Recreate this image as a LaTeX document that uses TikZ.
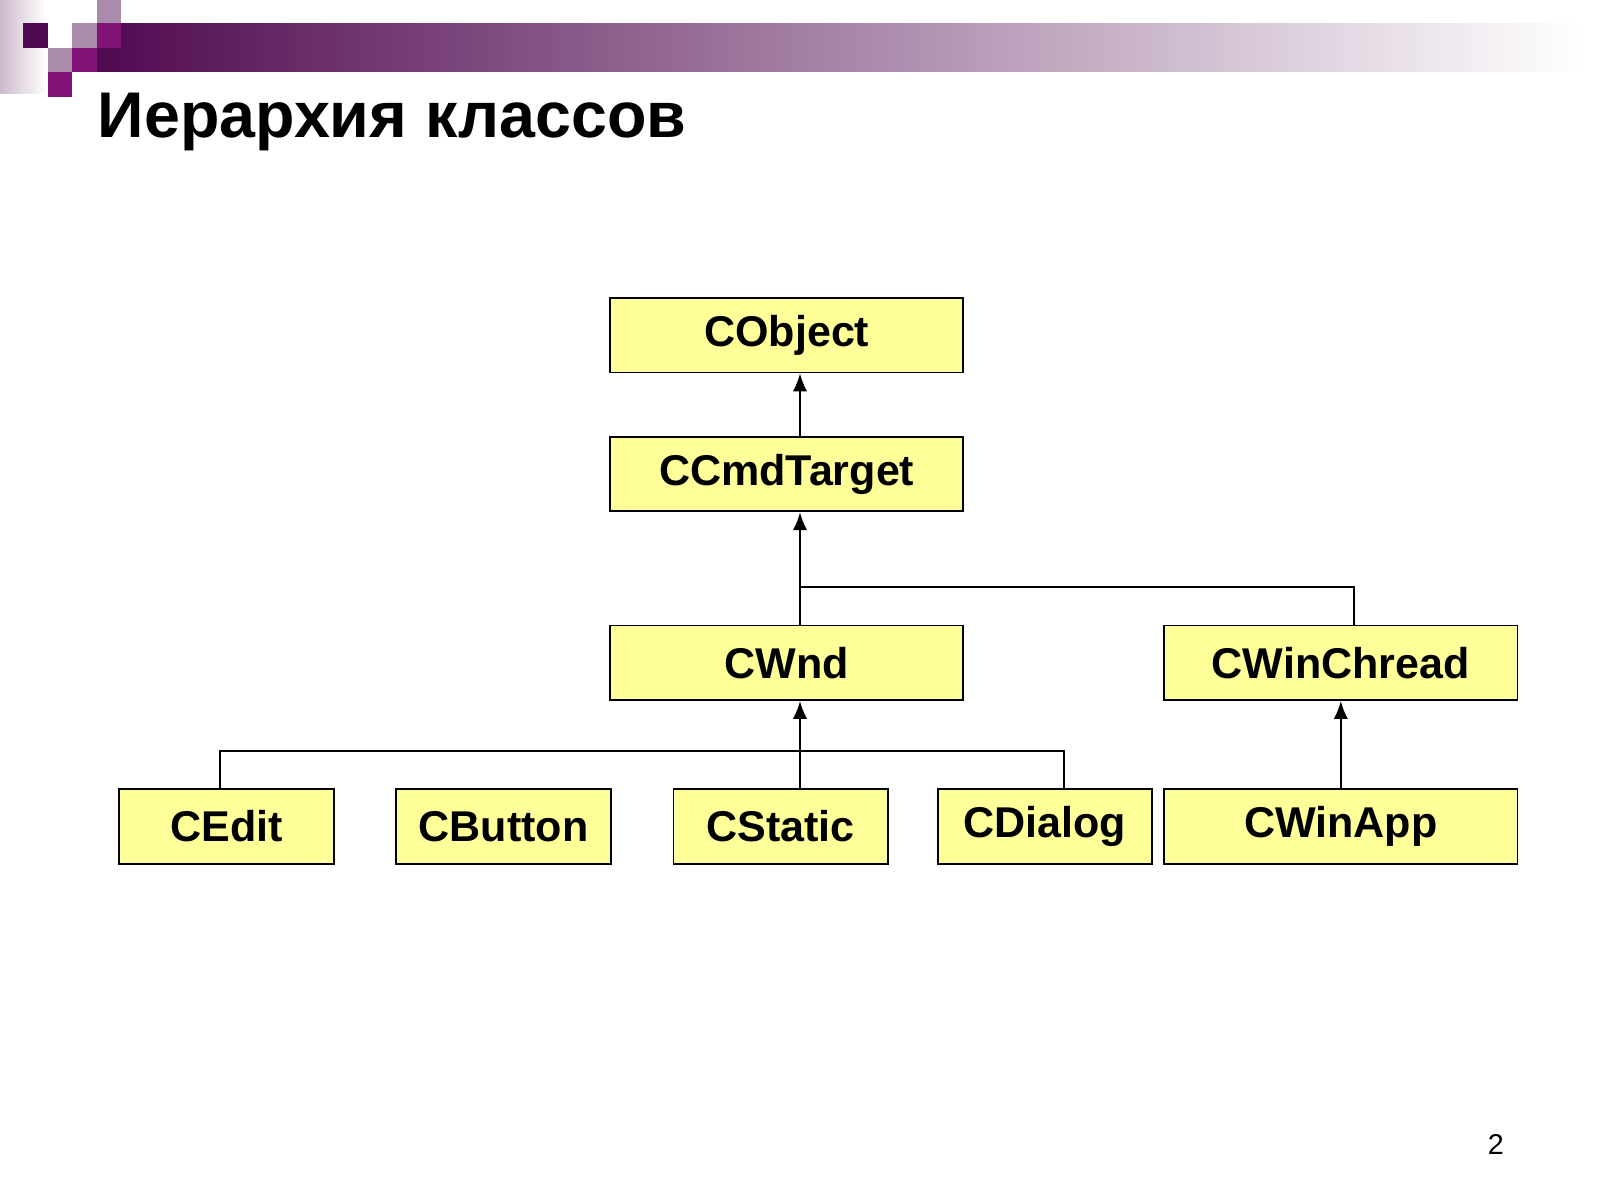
\documentclass[tikz,border=0pt]{standalone}
\usepackage{fontspec}
\setmainfont{Liberation Sans}
\usetikzlibrary{arrows.meta}
\definecolor{dpur}{RGB}{80,10,80}
\definecolor{mpur}{RGB}{130,20,120}
\definecolor{lpur}{RGB}{170,140,170}
\definecolor{boxy}{RGB}{255,255,153}
\begin{document}
\begin{tikzpicture}[x=0.01cm,y=-0.01cm,
  cls/.style={draw=black,fill=boxy,line width=0.5pt,inner sep=0pt,font=\bfseries\fontsize{12pt}{14pt}\selectfont},
  wide/.style={cls,minimum width=3.46cm,minimum height=0.73cm},
  small/.style={cls,minimum width=2.10cm,minimum height=0.74cm},
  link/.style={line width=0.6pt,-{Latex[length=5pt,width=4pt]}},
  plain/.style={line width=0.6pt}]
\useasboundingbox (0,0) rectangle (1568,1176);
\fill[white] (0,0) rectangle (1568,1176);
\shade[left color=lpur!60,right color=white] (0,0) rectangle (45,92);
\shade[left color=dpur,right color=white] (95,23) rectangle (1550,70);
\fill[dpur] (23,23) rectangle (47,47);
\fill[lpur] (71,23) rectangle (95,47);
\fill[lpur] (95,0) rectangle (119,23);
\fill[mpur] (95,23) rectangle (119,47);
\fill[lpur] (47,47) rectangle (71,71);
\fill[mpur] (71,47) rectangle (95,71);
\fill[mpur] (47,71) rectangle (71,95);
\node[anchor=base west,font=\bfseries\fontsize{18pt}{20pt}\selectfont,inner sep=0pt] (title) at (95,135) {Иерархия классов};
\node[font=\fontsize{8pt}{9pt}\selectfont] (pg) at (1466,1122) {2};
\node[wide] (obj) at (771,328.5) {CObject};
\node[wide] (cmd) at (771,464.5) {CCmdTarget};
\node[wide] (wnd) at (771,649.5) {CWnd};
\node[wide] (thr) at (1314,649.5) {CWinChread};
\node[small] (edit) at (222,810) {CEdit};
\node[small] (btn) at (493.5,810) {CButton};
\node[small] (stat) at (765,810) {CStatic};
\node[small] (dlg) at (1024,810) {CDialog};
\node[wide,minimum height=0.74cm] (app) at (1314,810) {CWinApp};
\coordinate (b1) at (784,575);
\coordinate (b2) at (784,736);
\draw[link] (wnd.north -| 784,0) -- (cmd.south -| 784,0);
\draw[link] (cmd.north -| 784,0) -- (obj.south -| 784,0);
\draw[plain] (thr.north -| 1327,0) |- (b1);
\draw[link] (stat.north -| 784,0) -- (wnd.south -| 784,0);
\draw[plain] (edit.north -| 216,0) |- (b2);
\draw[plain] (btn.north -| 499,0) -- (btn.north -| 499,736);
\draw[plain] (dlg.north -| 1043,0) |- (b2);
\draw[link] (app) -- (thr);
\end{tikzpicture}
\end{document}
